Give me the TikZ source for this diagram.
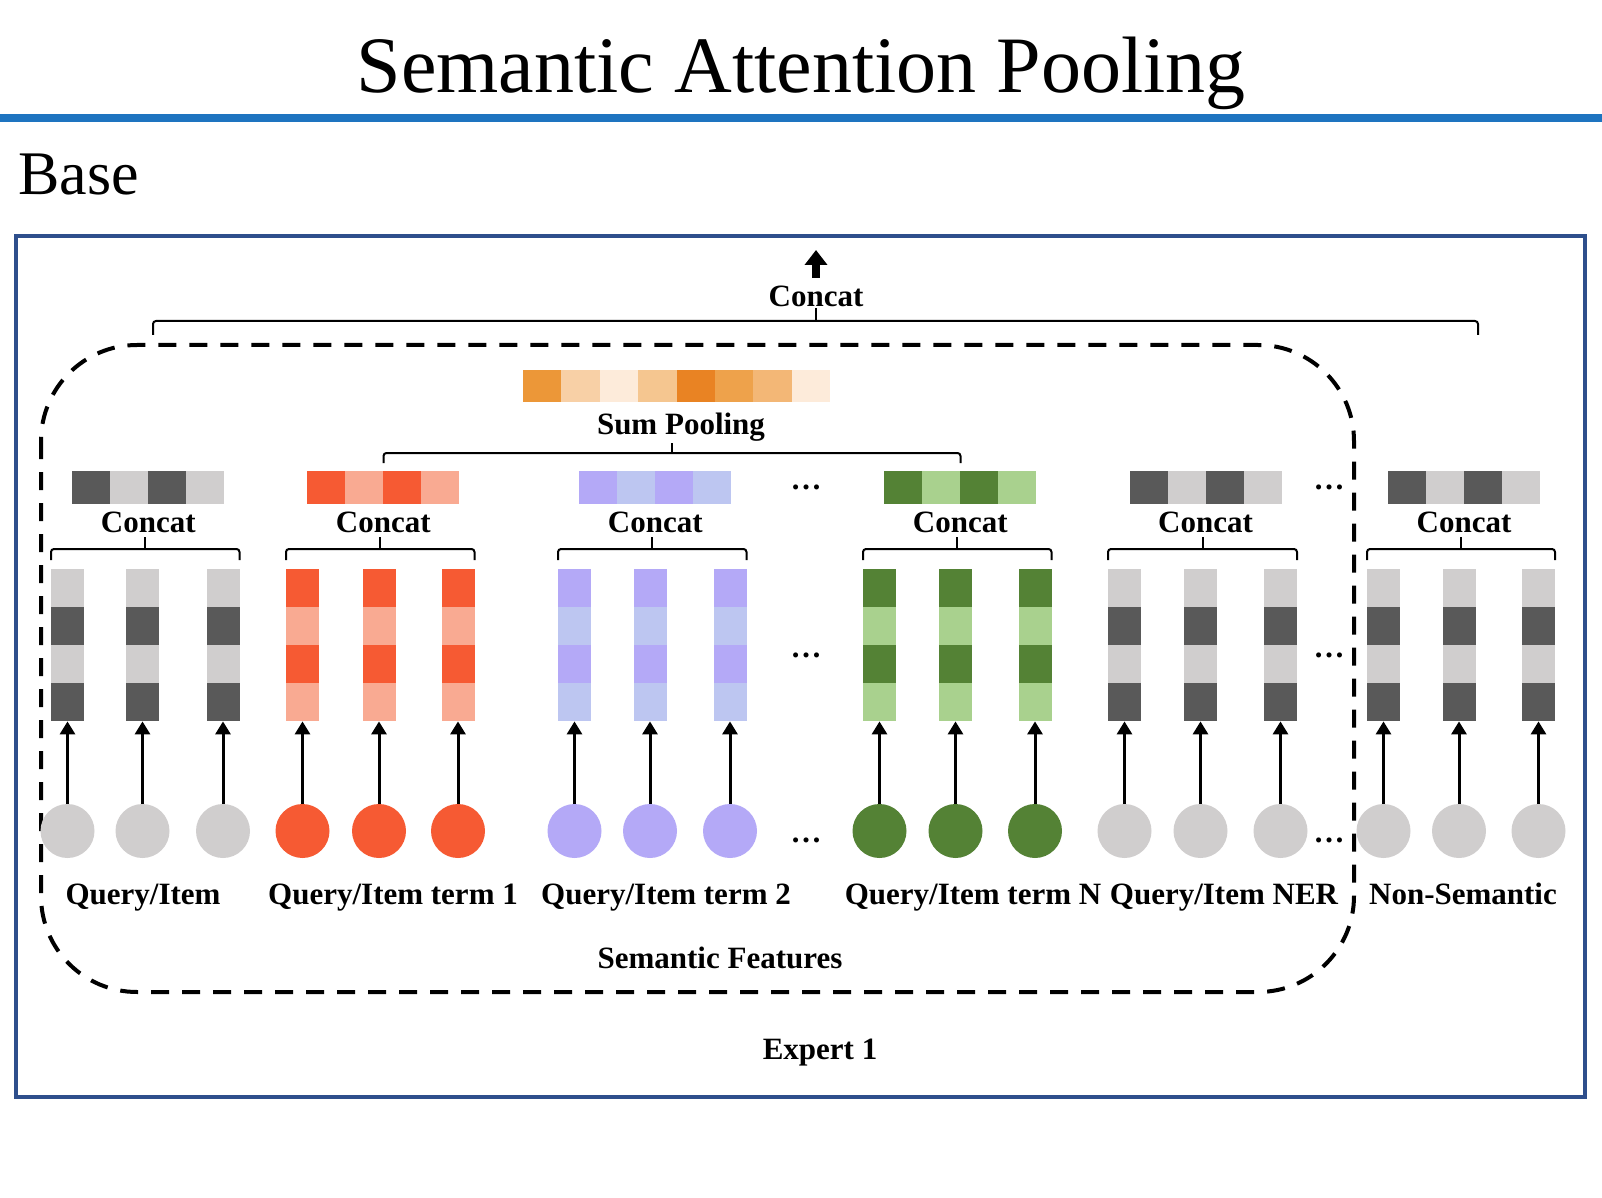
\documentclass[tikz,border=0pt]{standalone}
\usepackage{fontspec}
\setmainfont{Liberation Serif}
\usetikzlibrary{arrows.meta}
\definecolor{gdark}{HTML}{595959}
\definecolor{glight}{HTML}{D0CECE}
\definecolor{rdark}{HTML}{F65A33}
\definecolor{rlight}{HTML}{F9AA92}
\definecolor{pdark}{HTML}{B4A9F7}
\definecolor{plight}{HTML}{BDC6F1}
\definecolor{vdark}{HTML}{548235}
\definecolor{vlight}{HTML}{A9D18E}
\definecolor{oa}{HTML}{EC9738}
\definecolor{ob}{HTML}{F8D0A6}
\definecolor{oc}{HTML}{FDEBDA}
\definecolor{od}{HTML}{F5C690}
\definecolor{oe}{HTML}{E98323}
\definecolor{of}{HTML}{EEA24B}
\definecolor{og}{HTML}{F3B776}
\definecolor{frameblue}{HTML}{2E4F8C}
\definecolor{ruleblue}{HTML}{1E74C0}

\newcommand{\mkvcol}[4]{%
  \fill[#3] ({#2-16.5},569) rectangle ({#2+16.5},607);
  \fill[#4] ({#2-16.5},607) rectangle ({#2+16.5},645);
  \fill[#3] ({#2-16.5},645) rectangle ({#2+16.5},683);
  \fill[#4] ({#2-16.5},683) rectangle ({#2+16.5},721);
  \node[inner sep=0, minimum width=16.5pt, minimum height=76pt] (#1) at ({#2},645) {};
}
\newcommand{\mkhbar}[4]{%
  \fill[#3] ({#2-76},471) rectangle ({#2-38},504);
  \fill[#4] ({#2-38},471) rectangle ({#2},504);
  \fill[#3] ({#2},471) rectangle ({#2+38},504);
  \fill[#4] ({#2+38},471) rectangle ({#2+76},504);
  \node[inner sep=0, minimum width=76pt, minimum height=16.5pt] (#1) at ({#2},487.5) {};
}
% prefix, x1, x2, x3, vtop, vsecond, hdark, hlight, circle colour
\newcommand{\mkgroup}[9]{%
  \mkvcol{#1b1}{#2}{#5}{#6}
  \mkvcol{#1b2}{#3}{#5}{#6}
  \mkvcol{#1b3}{#4}{#5}{#6}
  \node[featc, fill=#9] (#1c1) at ({#2},831) {};
  \node[featc, fill=#9] (#1c2) at ({#3},831) {};
  \node[featc, fill=#9] (#1c3) at ({#4},831) {};
  \draw[arr] (#1c1) -- (#1b1);
  \draw[arr] (#1c2) -- (#1b2);
  \draw[arr] (#1c3) -- (#1b3);
  \draw[brk] ({#2-16.5},560) -- ({#2-16.5},549) -- ({#4+16.5},549) -- ({#4+16.5},560);
  \draw[brk] ({(#2+#4)/2},549) -- ({(#2+#4)/2},537);
  \node[lbl] (#1l) at ({(#2+#4)/2+3},532) {Concat};
  \mkhbar{#1h}{(#2+#4)/2+3}{#7}{#8}
}

\begin{document}
\begin{tikzpicture}[x=0.5pt,y=-0.5pt,
  lbl/.style={anchor=base, inner sep=0, font=\fontsize{15.5}{18}\selectfont\bfseries},
  dotlbl/.style={inner sep=0, font=\fontsize{15.5}{18}\selectfont\bfseries},
  featc/.style={circle, inner sep=0, minimum size=27pt},
  arr/.style={line width=1.5pt, -{Triangle[width=7.5pt,length=6.5pt]}},
  brk/.style={line width=1pt, rounded corners=1.5pt},
  dashbox/.style={line width=2pt, dash pattern=on 9pt off 6.5pt, rounded corners=48pt}]
\useasboundingbox (0,0) rectangle (1602,1198);
\fill[white] (0,0) rectangle (1602,1198);

% title and rule
\node[anchor=base, inner sep=0, font=\fontsize{40}{48}\selectfont] (title) at (801,93) {Semantic Attention Pooling};
\fill[ruleblue] (0,114.5) rectangle (1602,122.5);
\node[anchor=base west, inner sep=0, font=\fontsize{31}{36}\selectfont] (base) at (18,195) {Base};

% outer frame
\draw[frameblue, line width=2pt] (16,236) rectangle (1585,1097);

% semantic dashed box
\draw[dashbox] (41,345) rectangle (1354,992);

% groups
\mkgroup{g}{67.5}{142.5}{223}{glight}{gdark}{gdark}{glight}{glight}
\mkgroup{r}{302.5}{379}{458}{rdark}{rlight}{rdark}{rlight}{rdark}
\mkgroup{p}{574.5}{650}{730}{pdark}{plight}{pdark}{plight}{pdark}
\mkgroup{v}{879.5}{955.5}{1035}{vdark}{vlight}{vdark}{vlight}{vdark}
\mkgroup{n}{1124.5}{1200.5}{1280.5}{glight}{gdark}{gdark}{glight}{glight}
\mkgroup{s}{1383.5}{1459}{1538.5}{glight}{gdark}{gdark}{glight}{glight}

% ellipses
\node[dotlbl] (d1) at (806,487) {…};
\node[dotlbl] (d2) at (806,655) {…};
\node[dotlbl] (d3) at (806,840) {…};
\node[dotlbl] (d4) at (1329,487) {…};
\node[dotlbl] (d5) at (1329,655) {…};
\node[dotlbl] (d6) at (1329,840) {…};

% feature labels
\node[lbl] (l1) at (143,904) {Query/Item};
\node[lbl] (l2) at (393,904) {Query/Item term 1};
\node[lbl] (l3) at (666,904) {Query/Item term 2};
\node[lbl] (l4) at (973,904) {Query/Item term N};
\node[lbl] (l5) at (1224,904) {Query/Item NER};
\node[lbl] (l6) at (1463,904) {Non-Semantic};

% sum pooling
\foreach \k/\cc in {0/oa,1/ob,2/oc,3/od,4/oe,5/of,6/og,7/oc}
  \fill[\cc] ({523+38.4*\k},370) rectangle ({523+38.4*(\k+1)},402);
\node[inner sep=0, minimum width=153.5pt, minimum height=16pt] (pool) at (676.5,386) {};
\node[lbl] (sumlbl) at (681,434) {Sum Pooling};
\draw[brk] (383.5,463) -- (383.5,453) -- (960.5,453) -- (960.5,463);
\draw[brk] (672,453) -- (672,443);

% top concat
\draw[brk] (153,335) -- (153,321) -- (1478,321) -- (1478,335);
\draw[brk] (815.5,321) -- (815.5,308);
\node[lbl] (topc) at (816,307) {Concat};
\coordinate (outbase) at (816,278);
\coordinate (outtip) at (816,250);
\draw[line width=4pt, -{Triangle[width=11pt,length=7.5pt]}] (outbase) -- (outtip);

% bottom labels
\node[lbl] (semf) at (720,968) {Semantic Features};
\node[lbl] (exp) at (820,1059) {Expert 1};
\end{tikzpicture}
\end{document}
